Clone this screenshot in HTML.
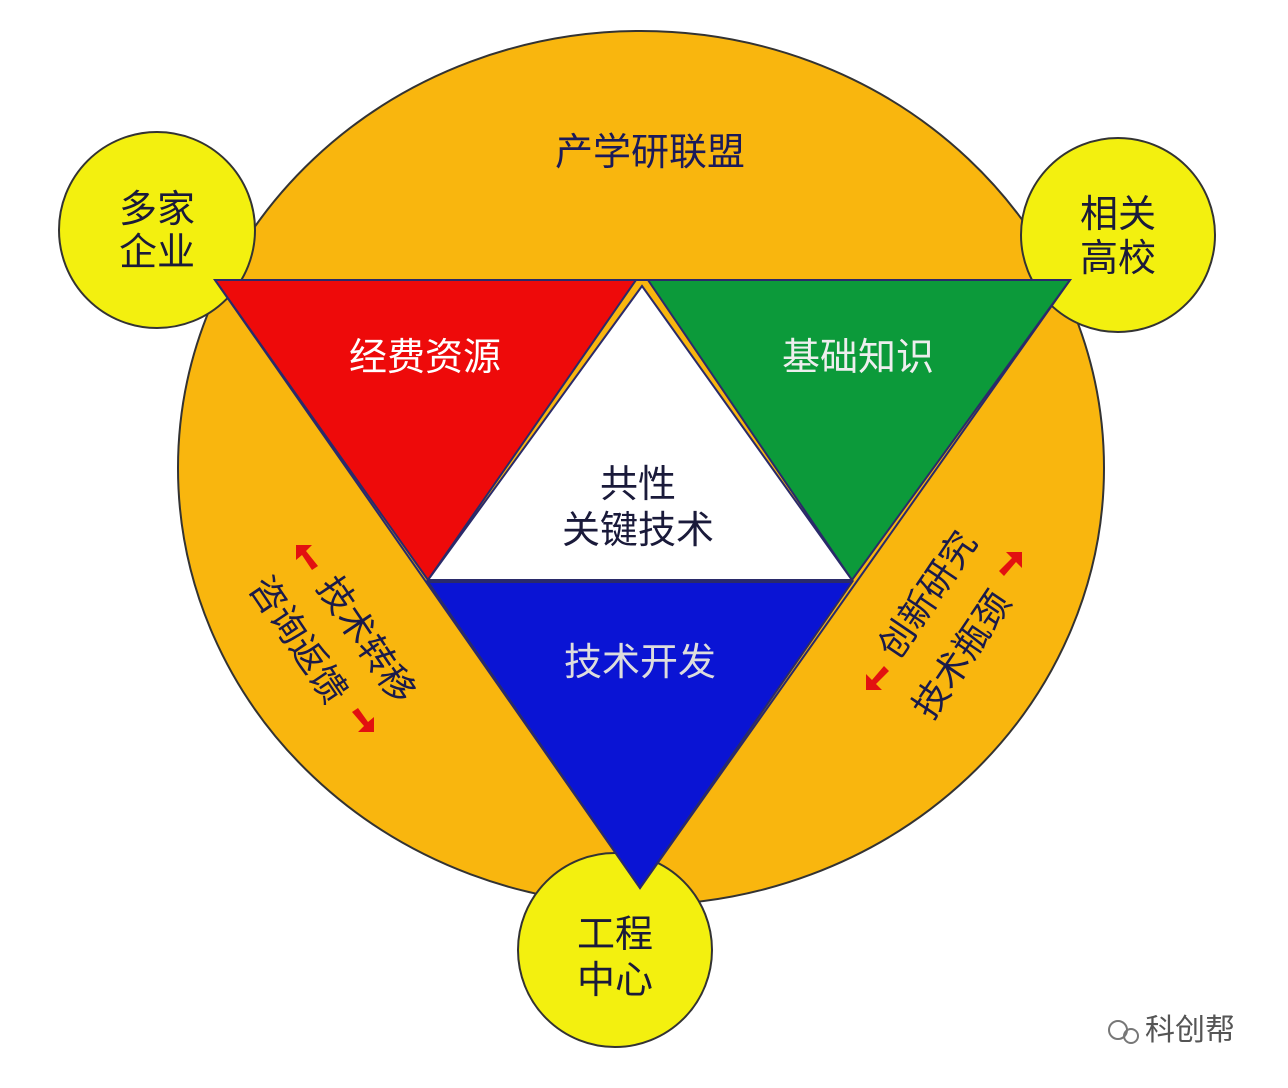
<!DOCTYPE html>
<html><head><meta charset="utf-8"><style>
html,body{margin:0;padding:0;background:#fff;width:1288px;height:1088px;overflow:hidden}
text{font-family:"Liberation Sans","Noto Sans CJK SC",sans-serif}
</style></head><body>
<svg width="1288" height="1088" viewBox="0 0 1288 1088" xmlns="http://www.w3.org/2000/svg">
<ellipse cx="641" cy="468" rx="463" ry="437" fill="#F9B60E" stroke="#333" stroke-width="2"/>
<circle cx="157" cy="230" r="98" fill="#F3F00F" stroke="#333" stroke-width="2"/>
<circle cx="1118" cy="235" r="97" fill="#F3F00F" stroke="#333" stroke-width="2"/>
<circle cx="615" cy="950" r="97" fill="#F3F00F" stroke="#333" stroke-width="2"/>
<polygon points="215,280 1070,280 640,888" fill="#F9B60E" stroke="#2a2a6a" stroke-width="2"/>
<polygon points="215,280 636,280 428,580" fill="#EE0A0A" stroke="#2a2a6a" stroke-width="2"/>
<polygon points="648,280 1070,280 852,580" fill="#0C9A3A" stroke="#2a2a6a" stroke-width="2"/>
<polygon points="642,286 428,580 852,580" fill="#fff" stroke="#2a2a6a" stroke-width="2"/>
<polygon points="428,582 852,582 640,888" fill="#0A14D4" stroke="#2a2a6a" stroke-width="2"/>
<g font-size="38" text-anchor="middle" fill="#1a1a3a">
<text x="650" y="165" fill="#1a1a5a">产学研联盟</text>
<text x="157" y="222">多家</text><text x="157" y="265">企业</text>
<text x="1118" y="227">相关</text><text x="1118" y="271">高校</text>
<text x="615" y="947">工程</text><text x="615" y="993">中心</text>
<text x="638" y="497">共性</text><text x="638" y="543">关键技术</text>
<text x="425" y="370" fill="#fff">经费资源</text>
<text x="858" y="370" fill="#eee">基础知识</text>
<text x="640" y="675" fill="#ddd">技术开发</text>
</g>
<g font-size="36" fill="#1a1a4a" text-anchor="middle">
<text transform="translate(366,640) rotate(56)" x="0" y="12">技术转移</text>
<text transform="translate(298,640) rotate(56)" x="0" y="12">咨询返馈</text>
<text transform="translate(928,595) rotate(-56)" x="0" y="12">创新研究</text>
<text transform="translate(962,655) rotate(-56)" x="0" y="12">技术瓶颈</text>
</g>
<g fill="#E21010">
<polygon points="296,545 312,545 306,551 318,566 312,570 302,555 296,560"/>
<polygon points="374,732 358,732 364,726 352,712 358,708 368,722 374,717"/>
<polygon points="1022,552 1022,568 1016,562 1004,576 999,571 1012,558 1006,552"/>
<polygon points="866,690 866,674 872,680 884,666 889,671 876,684 882,690"/>
</g>
<text x="1190" y="1040" font-size="30" text-anchor="middle" fill="#555">科创帮</text>
<circle cx="1118" cy="1030" r="9" fill="none" stroke="#777" stroke-width="2"/>
<circle cx="1131" cy="1036" r="7" fill="none" stroke="#777" stroke-width="2"/>
</svg>
</body></html>
